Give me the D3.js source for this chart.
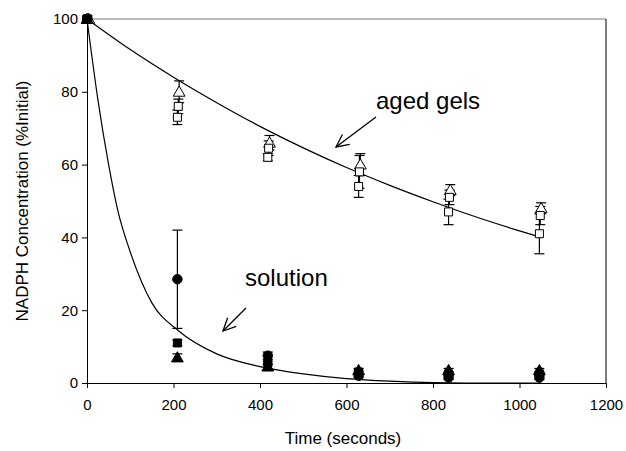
<!DOCTYPE html>
<html><head><meta charset="utf-8">
<script src="https://cdn.jsdelivr.net/npm/d3@7"></script>
<style>body{margin:0;background:#fff}svg{display:block}text{font-family:"Liberation Sans",Arial,sans-serif}</style>
</head><body><svg id="c" width="626" height="451"></svg>
<script>
const xTicks = [0,200,400,600,800,1000,1200];
const yTicks = [0,20,40,60,80,100];
const times = [0,209,418,628,836,1046];
// solution (filled markers)
const solCircle = [100,28.5,7.5,2,1.5,1.5];
const solCircleErr = [0,13.5,1,0.5,0.5,0.5];
const solSquare = [100,11,5.5,3,2.5,2.5];
const solSquareErr = [0,0.8,0.5,0.5,0.5,0.5];
const solTri = [100,7,4.5,3.5,3.5,3.5];
const solTriErr = [0,1,0.8,0.5,0.5,0.5];
// aged gels (open markers)
const agedTri = [100,80,66,60,53,48];
const agedTriErr = [0,3,2,3,1.5,1.5];
const agedSq1 = [100,76,64.5,58,51,46];
const agedSq1Err = [0,2,2,4.5,2,2.5];
const agedSq2 = [100,73,62,54,47,41];
const agedSq2Err = [0,2,1,3,3.5,5.5];
// fitted curves
const agedFitT = [0,100,200,300,400,500,600,700,800,900,1000,1050];
const agedFitV = [100,91.6,84,77,70.5,64.6,59.2,54.3,49.8,45.6,41.8,40];
const solFitT = [0,25,50,72,100,150,210,300,400,500,600,700,800,900,1050];
const solFitV = [100,78,60,47,36,22,14.5,8,4.5,2.5,1.2,0.5,0.1,0,0];

const svg = d3.select("#c");
const x = d3.scaleLinear().domain([0,1200]).range([87,606]);
const y = d3.scaleLinear().domain([0,100]).range([383,19]);

// frame
svg.append("line").attr("x1",87).attr("x2",606).attr("y1",19).attr("y2",19).attr("stroke","#777");
svg.append("line").attr("x1",606).attr("x2",606).attr("y1",19).attr("y2",383).attr("stroke","#000");

const xa = svg.append("g").attr("transform","translate(0,383)")
  .call(d3.axisBottom(x).tickValues(xTicks).tickFormat(d3.format("d")).tickSize(5).tickPadding(11).tickSizeOuter(0));
const ya = svg.append("g").attr("transform","translate(87,0)")
  .call(d3.axisLeft(y).tickValues(yTicks).tickFormat(d3.format("d")).tickSize(5).tickPadding(4).tickSizeOuter(0));
[xa,ya].forEach(g=>{g.selectAll("text").attr("font-size",15).attr("font-family","Liberation Sans, Arial").attr("fill","#000");
  g.selectAll("line,path").attr("stroke","#000");});

svg.append("text").attr("x",343).attr("y",444).attr("text-anchor","middle").attr("font-size",17).text("Time (seconds)");
svg.append("text").attr("transform","translate(28,201) rotate(-90)").attr("text-anchor","middle").attr("font-size",17).text("NADPH Concentration (%Initial)");

const line = d3.line().x(d=>x(d[0])).y(d=>y(d[1])).curve(d3.curveMonotoneX);
svg.append("path").datum(agedFitT.map((t,i)=>[t,agedFitV[i]])).attr("d",line).attr("fill","none").attr("stroke","#000").attr("stroke-width",1.2);
svg.append("path").datum(solFitT.map((t,i)=>[t,solFitV[i]])).attr("d",line).attr("fill","none").attr("stroke","#000").attr("stroke-width",1.2);

function errBars(vals, errs, dt){
  vals.forEach((v,i)=>{ if(!errs[i]) return;
    const cx = x(times[i]+dt);
    const g = svg.append("g").attr("stroke","#000").attr("stroke-width",1.2);
    g.append("line").attr("x1",cx).attr("x2",cx).attr("y1",y(v+errs[i])).attr("y2",y(v-errs[i]));
    [v+errs[i], v-errs[i]].forEach(e=>g.append("line").attr("x1",cx-5).attr("x2",cx+5).attr("y1",y(e)).attr("y2",y(e)));
  });
}
function markers(vals, dt, type, filled){
  const sym = d3.symbol().type(type==="circle"?d3.symbolCircle:type==="square"?d3.symbolSquare:d3.symbolTriangle)
    .size(type==="circle"?70:type==="square"?64:60);
  vals.forEach((v,i)=>{
    svg.append("path").attr("d",sym()).attr("transform",`translate(${x(times[i]+dt)},${y(v)+(type==="triangle"?1:0)})`)
      .attr("fill",filled?"#000":"#fff").attr("stroke","#000").attr("stroke-width",1);
  });
}
errBars(agedTri, agedTriErr, 4);
errBars(agedSq1, agedSq1Err, 2);
errBars(agedSq2, agedSq2Err, 0);
markers(agedTri, 4, "triangle", false);
markers(agedSq1, 2, "square", false);
markers(agedSq2, 0, "square", false);

errBars(solCircle, solCircleErr, 0);
errBars(solSquare, solSquareErr, 0);
errBars(solTri, solTriErr, 0);
markers(solTri, 0, "triangle", true);
markers(solSquare, 0, "square", true);
markers(solCircle, 0, "circle", true);

// annotations
svg.append("text").attr("x",376).attr("y",109).attr("font-size",24).text("aged gels");
svg.append("text").attr("x",245).attr("y",286).attr("font-size",24).text("solution");
function arrow(x1,y1,x2,y2){
  const g = svg.append("g").attr("stroke","#000").attr("stroke-width",1.3).attr("fill","none");
  g.append("line").attr("x1",x1).attr("y1",y1).attr("x2",x2).attr("y2",y2);
  const a = Math.atan2(y1-y2,x1-x2), L=14, w=0.45;
  g.append("polyline").attr("points",[[x2+L*Math.cos(a+w),y2+L*Math.sin(a+w)],[x2,y2],[x2+L*Math.cos(a-w),y2+L*Math.sin(a-w)]].map(p=>p.join(",")).join(" "));
}
arrow(376,117,336,147);
arrow(246,308,223,331);
</script></body></html>
